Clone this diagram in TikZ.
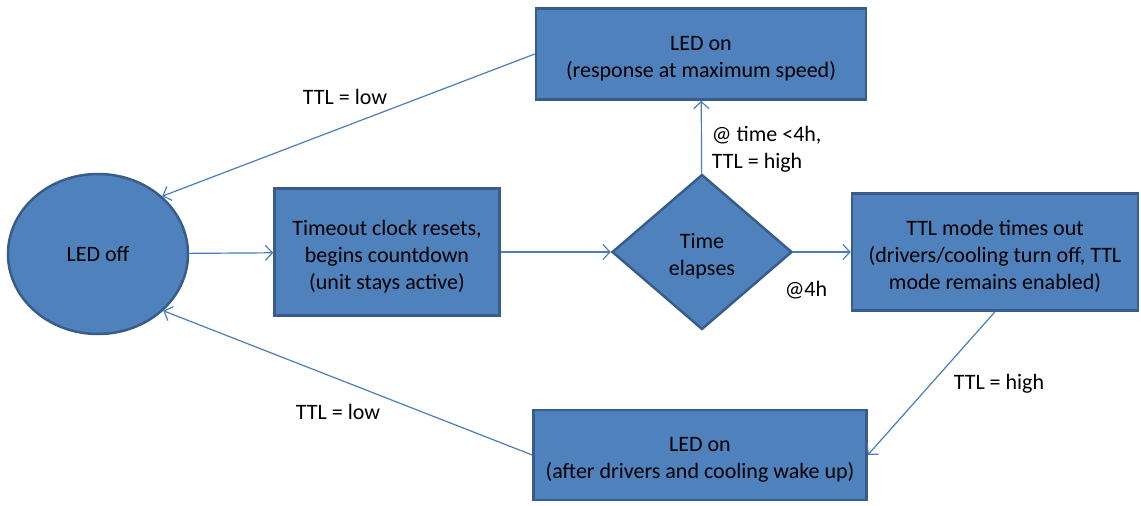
\documentclass[tikz,border=0pt]{standalone}
\usepackage{fontspec}
\setmainfont{Carlito}
\usetikzlibrary{shapes.geometric,arrows.meta}
\definecolor{boxfill}{HTML}{4F81BD}
\definecolor{boxline}{HTML}{385D8A}
\definecolor{arrowline}{HTML}{4A7EBB}
\newcommand{\tallline}{\rule{0pt}{24pt}}

\begin{document}
\begin{tikzpicture}[x=1pt, y=-1pt, ->, >={Straight Barb[length=7pt,width=15pt]}, draw=arrowline, line width=1.2pt, every node/.append style={font=\fontsize{22}{27}\selectfont}]
    \tikzstyle{state}=[fill=boxfill, draw=boxline, line width=2.5pt, inner sep=2pt, align=center]
    \tikzstyle{stepbox}=[state, rectangle]
    \tikzstyle{stateoval}=[state, ellipse, minimum width=180pt, minimum height=160pt]
    \tikzstyle{decision}=[state, diamond, minimum width=180pt, minimum height=155pt]
    \tikzstyle{annot}=[text=black, align=left]

    \useasboundingbox (0,0) rectangle (1141,506);

    % Draw the states
    \node[stateoval] (ledoff) at (98,254) {LED off};
    \node[stepbox, minimum width=225pt, minimum height=127pt] (reset) at (387,252) {\tallline Timeout clock resets,\\begins countdown\\(unit stays active)};
    \node[decision] (elapse) at (702,252) {\tallline Time\\elapses};
    \node[stepbox, minimum width=286pt, minimum height=117pt] (timeout) at (995,252) {\tallline TTL mode times out\\(drivers/cooling turn off, TTL\\mode remains enabled)};
    \node[stepbox, minimum width=330pt, minimum height=91pt] (fast) at (701,54) {\tallline LED on\\(response at maximum speed)};
    \node[stepbox, minimum width=333pt, minimum height=90pt] (wake) at (700,455) {\tallline LED on\\(after drivers and cooling wake up)};

    % Connect the states
    \path (ledoff) edge (reset);
    \path (reset) edge (elapse);
    \path (elapse) edge (timeout);
    \path (elapse) edge (fast);
    \path (fast.west) edge (ledoff.42);
    \path (timeout.south) edge (wake.east);
    \path (wake.west) edge (ledoff.-41);

    % Annotate the transitions
    \node[annot] (lowtop) at (345,97) {TTL = low};
    \node[annot, anchor=west] (early) at (708,149) {@ time <4h,\\TTL = high};
    \node[annot] (late) at (806,290) {@4h};
    \node[annot] (highright) at (999,384) {TTL = high};
    \node[annot] (lowbottom) at (338,412) {TTL = low};
\end{tikzpicture}
\end{document}
